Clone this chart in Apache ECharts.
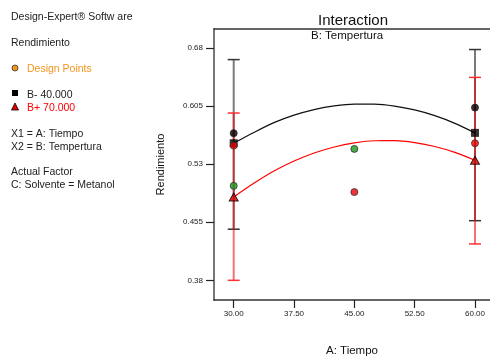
<!DOCTYPE html>
<html>
<head>
<meta charset="utf-8">
<script src="https://cdn.jsdelivr.net/npm/echarts@6/dist/echarts.min.js"></script>
<style>
html,body{margin:0;padding:0;background:#fff;}
#c{width:490px;height:356px;}
</style>
</head>
<body>
<div id="c"></div>
<script>
// ---- data ----
var xTicks = [30, 37.5, 45, 52.5, 60];
var yTicks = [0.38, 0.455, 0.53, 0.605, 0.68];

// fitted interaction curves (B- = 40, B+ = 70)
var curveX = [30, 32.5, 35, 37.5, 40, 42.5, 45, 47.5, 50, 52.5, 55, 57.5, 60];
var curveBminus = [0.557, 0.5709, 0.5836, 0.5933, 0.6005, 0.6053, 0.6076, 0.6075, 0.6050, 0.6000, 0.5926, 0.5827, 0.5704];
var curveBplus  = [0.4875, 0.5052, 0.5211, 0.5340, 0.5444, 0.5522, 0.5575, 0.5602, 0.5603, 0.5578, 0.5528, 0.5452, 0.535];

// predicted end points
var predX = [30, 60];
var predBminus = [0.557, 0.5704];
var predBplus  = [0.4875, 0.535];

// LSD error bars [x, low, high]
var errBminus = [[30, 0.446, 0.665], [60, 0.457, 0.678]];
var errBplus  = [[30, 0.380, 0.596], [60, 0.427, 0.642]];

// design points
var ptsBlack = [[30, 0.570], [60, 0.603]];
var ptsRed   = [[30, 0.554], [45, 0.494], [60, 0.557]];
var ptsGreen = [[30, 0.502], [45, 0.5497]];

var FONT = '"Liberation Sans", Arial, sans-serif';

function zip(xs, ys){ return xs.map(function(x,i){ return [x, ys[i]]; }); }

function errRender(vColor, capColor){
  return function(params, api){
    var x = api.value(0), lo = api.value(1), hi = api.value(2);
    var pt = api.coord([x, hi]), pb = api.coord([x, lo]);
    var w = 6;
    return {type:'group', children:[
      {type:'line', shape:{x1:pt[0], y1:pt[1], x2:pb[0], y2:pb[1]}, style:{stroke:vColor, lineWidth:2}},
      {type:'line', shape:{x1:pt[0]-w, y1:pt[1], x2:pt[0]+w, y2:pt[1]}, style:{stroke:capColor, lineWidth:1.5}},
      {type:'line', shape:{x1:pb[0]-w, y1:pb[1], x2:pb[0]+w, y2:pb[1]}, style:{stroke:capColor, lineWidth:1.5}}
    ]};
  };
}

var leftTexts = [
  ['Design-Expert® Softw are', 18, '#222'],
  ['Rendimiento', 44, '#222'],
  ['Design Points', 70, '#f7941d', 27],
  ['B- 40.000', 96, '#222', 27],
  ['B+ 70.000', 109, '#ff0000', 27],
  ['X1 = A: Tiempo', 135, '#222'],
  ['X2 = B: Tempertura', 148, '#222'],
  ['Actual Factor', 173, '#222'],
  ['C: Solvente = Metanol', 186, '#222']
];
var graphics = leftTexts.map(function(t){
  return {type:'text', left: t[3] || 11, top: t[1]-6, style:{text:t[0], fill:t[2], font:'10.5px ' + FONT}};
});
graphics.push({type:'circle', shape:{cx:15, cy:68, r:3}, style:{fill:'#f7941d', stroke:'#333', lineWidth:0.8}});
graphics.push({type:'rect', shape:{x:12, y:90, width:6, height:6}, style:{fill:'#000'}});
graphics.push({type:'polygon', shape:{points:[[15,103],[11.5,110],[18.5,110]]}, style:{fill:'#e00000', stroke:'#000', lineWidth:0.8}});
graphics.push({type:'text', left:318, top:13, style:{text:'Interaction', fill:'#111', font:'15px ' + FONT}});
graphics.push({type:'text', left:311, top:30, style:{text:'B: Tempertura', fill:'#111', font:'11.5px ' + FONT}});

var chart = echarts.init(document.getElementById('c'), null, {renderer:'canvas'});
chart.setOption({
  animation:false,
  backgroundColor:'#fff',
  grid:{left:214, right:0, top:29, bottom:56, containLabel:false, outerBoundsMode:'none'},
  graphic: graphics,
  xAxis:[{
    type:'value', min:27.55, max:61.865,
    name:'A: Tiempo', nameLocation:'middle', nameGap:45,
    nameTextStyle:{fontFamily:FONT, fontSize:11.5, color:'#111'},
    axisLine:{show:true, lineStyle:{color:'#333', width:1.5}},
    axisTick:{show:true, length:8, customValues:xTicks, lineStyle:{color:'#222', width:1.2}},
    axisLabel:{customValues:xTicks, margin:10, fontFamily:FONT, fontSize:8, color:'#222',
      formatter:function(v){ return v.toFixed(2); }},
    splitLine:{show:false}
  },{
    type:'value', position:'top', min:27.55, max:61.865,
    axisLine:{show:true, lineStyle:{color:'#333', width:1.5}},
    axisTick:{show:false}, axisLabel:{show:false}, splitLine:{show:false}
  }],
  yAxis:{
    type:'value', min:0.3546, max:0.7045,
    name:'Rendimiento', nameLocation:'middle', nameGap:48, nameRotate:90,
    nameTextStyle:{fontFamily:FONT, fontSize:11, color:'#111'},
    axisLine:{show:true, lineStyle:{color:'#777', width:2}},
    axisTick:{show:true, length:8, customValues:yTicks, lineStyle:{color:'#222', width:1.2}},
    axisLabel:{customValues:yTicks, margin:11, fontFamily:FONT, fontSize:8, color:'#222',
      formatter:function(v){ return String(v); }},
    splitLine:{show:false}
  },
  series:[
    {type:'custom', renderItem: errRender('#7a7a7a', '#333'), data: errBminus, z:2},
    {type:'custom', renderItem: errRender('rgba(235,0,0,0.55)', '#ff3030'), data: errBplus, z:3},
    {type:'line', data: zip(curveX, curveBminus), smooth:0.3, showSymbol:false, symbol:'none',
      lineStyle:{color:'#111', width:1.2}, z:4},
    {type:'line', data: zip(curveX, curveBplus), smooth:0.3, showSymbol:false, symbol:'none',
      lineStyle:{color:'#ff0000', width:1.2}, z:4},
    {type:'scatter', data: zip(predX, predBminus), symbol:'rect', symbolSize:8,
      itemStyle:{color:'#000'}, z:5},
    {type:'scatter', data: zip(predX, predBplus), symbol:'triangle', symbolSize:[9,8],
      itemStyle:{color:'#e00000', borderColor:'#000', borderWidth:1}, z:5},
    {type:'scatter', data: ptsBlack, symbol:'circle', symbolSize:7,
      itemStyle:{color:'#000', borderColor:'#222', borderWidth:1}, z:6},
    {type:'scatter', data: ptsRed, symbol:'circle', symbolSize:7,
      itemStyle:{color:'#ee0000', borderColor:'#333', borderWidth:1}, z:6},
    {type:'scatter', data: ptsGreen, symbol:'circle', symbolSize:7,
      itemStyle:{color:'#1a9a1a', borderColor:'#333', borderWidth:1}, z:6}
  ]
});
</script>
</body>
</html>
